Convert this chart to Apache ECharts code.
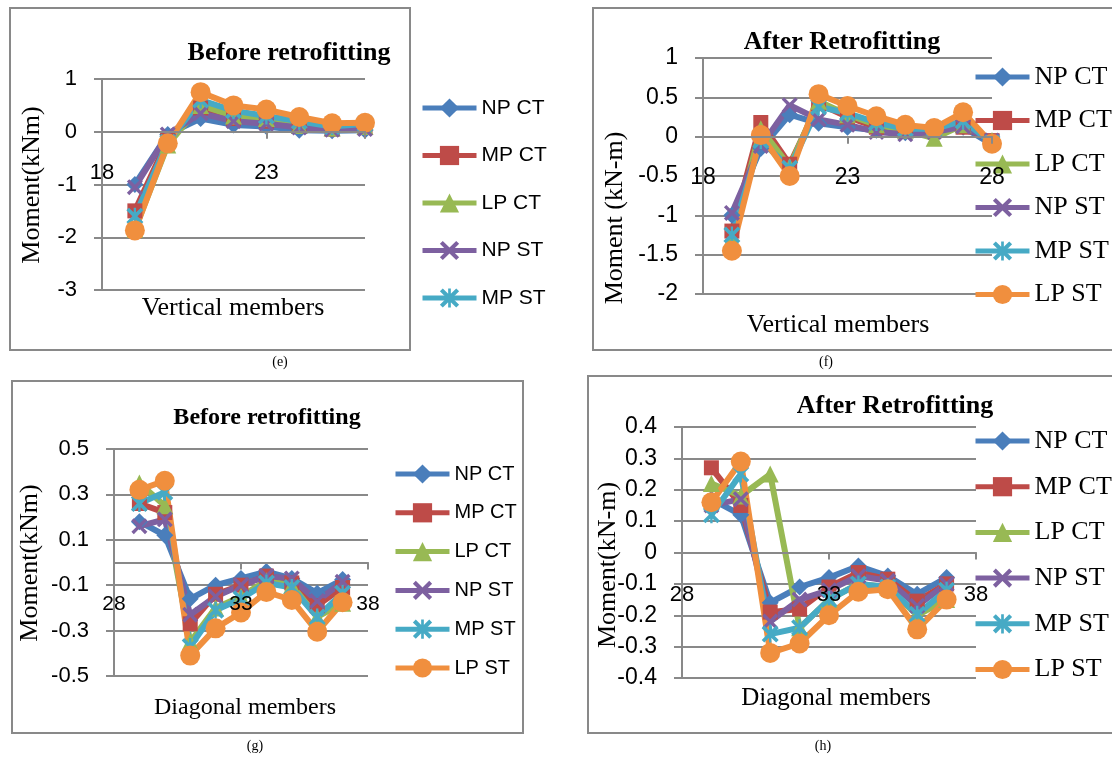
<!DOCTYPE html>
<html>
<head>
<meta charset="utf-8">
<script src="https://cdn.jsdelivr.net/npm/echarts@6/dist/echarts.min.js"></script>
<style>
html,body{margin:0;padding:0;background:#fff}
#main{width:1112px;height:758px}
</style>
</head>
<body>
<div id="main"></div>
<script>
// series names (same in all four panels)
var seriesNames = ['NP CT', 'MP CT', 'LP CT', 'NP ST', 'MP ST', 'LP ST'];

// (e) vertical members, before retrofitting
var membersE = [19, 20, 21, 22, 23, 24, 25, 26];
var eNpCt = [-1.0, -0.05, 0.25, 0.13, 0.1, 0.03, 0.02, 0.03];
var eMpCt = [-1.5, -0.15, 0.45, 0.25, 0.2, 0.1, 0.05, 0.08];
var eLpCt = [-1.85, -0.25, 0.5, 0.3, 0.25, 0.12, 0.07, 0.1];
var eNpSt = [-1.05, -0.05, 0.35, 0.2, 0.15, 0.08, 0.04, 0.05];
var eMpSt = [-1.6, -0.2, 0.6, 0.4, 0.3, 0.2, 0.1, 0.15];
var eLpSt = [-1.87, -0.22, 0.75, 0.5, 0.42, 0.28, 0.16, 0.17];
var xTicksE = [18, 23];

// (f) vertical members, after retrofitting
var membersF = [19, 20, 21, 22, 23, 24, 25, 26, 27, 28];
var fNpCt = [-1.0, -0.15, 0.28, 0.17, 0.12, 0.08, 0.05, 0.08, 0.12, -0.1];
var fMpCt = [-1.2, 0.18, -0.35, 0.42, 0.25, 0.12, 0.08, 0.08, 0.12, -0.05];
var fLpCt = [-1.3, 0.1, -0.38, 0.45, 0.28, 0.15, 0.08, -0.02, 0.15, -0.05];
var fNpSt = [-0.97, -0.12, 0.4, 0.22, 0.15, 0.06, 0.03, 0.06, 0.13, -0.05];
var fMpSt = [-1.25, -0.05, -0.4, 0.38, 0.3, 0.18, 0.1, 0.1, 0.2, -0.08];
var fLpSt = [-1.45, 0.02, -0.5, 0.54, 0.39, 0.26, 0.15, 0.11, 0.31, -0.09];
var xTicksF = [18, 23, 28];

// (g) diagonal members, before retrofitting
var membersG = [29, 30, 31, 32, 33, 34, 35, 36, 37];
var gNpCt = [0.18, 0.12, -0.16, -0.1, -0.07, -0.04, -0.07, -0.135, -0.075];
var gMpCt = [0.26, 0.22, -0.27, -0.14, -0.1, -0.06, -0.09, -0.19, -0.11];
var gLpCt = [0.35, 0.25, -0.35, -0.2, -0.15, -0.08, -0.1, -0.24, -0.18];
var gNpSt = [0.16, 0.19, -0.23, -0.15, -0.1, -0.06, -0.07, -0.17, -0.085];
var gMpSt = [0.26, 0.31, -0.37, -0.21, -0.16, -0.09, -0.11, -0.24, -0.135];
var gLpSt = [0.32, 0.36, -0.41, -0.29, -0.22, -0.13, -0.165, -0.305, -0.175];
var xTicksG = [28, 33, 38];

// (h) diagonal members, after retrofitting
var membersH = [29, 30, 31, 32, 33, 34, 35, 36, 37];
var hNpCt = [0.17, 0.12, -0.16, -0.11, -0.08, -0.043, -0.075, -0.133, -0.08];
var hMpCt = [0.27, 0.15, -0.19, -0.18, -0.11, -0.064, -0.085, -0.155, -0.1];
var hLpCt = [0.22, 0.18, 0.25, -0.24, -0.15, -0.1, -0.11, -0.2, -0.15];
var hNpSt = [0.15, 0.17, -0.22, -0.15, -0.12, -0.075, -0.09, -0.17, -0.1];
var hMpSt = [0.12, 0.25, -0.26, -0.24, -0.15, -0.1, -0.11, -0.197, -0.12];
var hLpSt = [0.16, 0.29, -0.32, -0.29, -0.2, -0.125, -0.117, -0.245, -0.15];
var xTicksH = [28, 33, 38];

var SANS = "'Liberation Sans', Arial, sans-serif";
var SERIF = "'Liberation Serif', 'Times New Roman', serif";
var GRAY = '#898989';

var colors = ['#4A7EBB', '#BE4B48', '#98B954', '#7D60A0', '#46AAC5', '#F08F3E'];
var xMark = 'path://M0,1.5L1.5,0L5,3.5L8.5,0L10,1.5L6.5,5L10,8.5L8.5,10L5,6.5L1.5,10L0,8.5L3.5,5Z';
var starMark = 'path://M0,1.5L1.5,0L5,3.5L8.5,0L10,1.5L6.5,5L10,8.5L8.5,10L5,6.5L1.5,10L0,8.5L3.5,5Z M4.3,0L5.7,0L5.7,10L4.3,10Z';
var symbols = ['diamond', 'rect', 'triangle', xMark, starMark, 'circle'];
var symbolSizes = [17, 15, 17, 16, 17, 20];

// layout of the four panels; labelMargin puts the x labels about 42px under the zero line
var panels = [
    {grid: {left: 102, top: 79, width: 263, height: 211}, xr: [18, 26, 5], yr: [-3, 1, 1],
     members: membersE, values: [eNpCt, eMpCt, eLpCt, eNpSt, eMpSt, eLpSt], ticks: xTicksE,
     yFont: 22, xFont: 22, labelMargin: -128,
     legend: {left: 420, top: 96, gap: 23.5, font: SANS, size: 21, names: seriesNames.slice(0, 5)}},
    {grid: {left: 703, top: 58, width: 289, height: 236}, xr: [18, 28, 5], yr: [-2, 1, 0.5],
     members: membersF, values: [fNpCt, fMpCt, fLpCt, fNpSt, fMpSt, fLpSt], ticks: xTicksF,
     yFont: 23, xFont: 23, labelMargin: -128,
     legend: {left: 973, top: 64, gap: 17.5, font: SERIF, size: 26, names: seriesNames}},
    {grid: {left: 114, top: 449, width: 254, height: 227}, xr: [28, 38, 5], yr: [-0.5, 0.5, 0.2],
     members: membersG, values: [gNpCt, gMpCt, gLpCt, gNpSt, gMpSt, gLpSt], ticks: xTicksG,
     yFont: 22, xFont: 21, labelMargin: -82,
     legend: {left: 393, top: 462, gap: 14.8, font: SANS, size: 20, names: seriesNames}},
    {grid: {left: 682, top: 427, width: 294, height: 251}, xr: [28, 38, 5], yr: [-0.4, 0.4, 0.1],
     members: membersH, values: [hNpCt, hMpCt, hLpCt, hNpSt, hMpSt, hLpSt], ticks: xTicksH,
     yFont: 23, xFont: 22, labelMargin: -94,
     legend: {left: 973, top: 428, gap: 19.7, font: SERIF, size: 26, names: seriesNames}}
];

var grids = [], xAxes = [], yAxes = [], series = [], legends = [];

panels.forEach(function (p, i) {
    grids.push(p.grid);
    var ticks = p.ticks;
    xAxes.push({
        gridIndex: i, type: 'value', min: p.xr[0], max: p.xr[1], interval: p.xr[2], z: 10,
        axisLine: {show: true, onZero: true, lineStyle: {color: GRAY, width: 2}},
        axisTick: {show: true, length: 7, lineStyle: {color: GRAY, width: 2}},
        axisLabel: {
            margin: p.labelMargin, color: '#000', fontFamily: SANS, fontSize: p.xFont,
            formatter: function (v) { return ticks.indexOf(v) >= 0 ? String(v) : ''; }
        },
        splitLine: {show: false}
    });
    yAxes.push({
        gridIndex: i, type: 'value', min: p.yr[0], max: p.yr[1], interval: p.yr[2],
        axisLine: {show: true, onZero: false, lineStyle: {color: GRAY, width: 2}},
        axisTick: {show: true, length: 8, lineStyle: {color: GRAY, width: 2}},
        axisLabel: {margin: 25, color: '#000', fontFamily: SANS, fontSize: p.yFont},
        splitLine: {show: true, lineStyle: {color: GRAY, width: 2}}
    });
    p.values.forEach(function (vals, k) {
        series.push({
            name: seriesNames[k], type: 'line', xAxisIndex: i, yAxisIndex: i,
            data: p.members.map(function (m, j) { return [m, vals[j]]; }),
            symbol: symbols[k], symbolSize: symbolSizes[k],
            lineStyle: {color: colors[k], width: 6},
            itemStyle: {color: colors[k]}
        });
    });
    legends.push({
        orient: 'vertical', left: p.legend.left, top: p.legend.top, padding: 0,
        itemWidth: 54, itemHeight: 24, itemGap: p.legend.gap,
        data: p.legend.names, selectedMode: false,
        lineStyle: {width: 5},
        textStyle: {color: '#000', fontFamily: p.legend.font, fontSize: p.legend.size, lineHeight: 24}
    });
});

function label(text, x, y, size, opts) {
    opts = opts || {};
    return {
        type: 'text', x: x, y: y, rotation: opts.rot || 0, z: 20,
        style: {
            text: text, fill: '#000', align: 'center', verticalAlign: 'middle',
            font: (opts.bold ? 'bold ' : '') + size + 'px ' + SERIF
        }
    };
}

function frame(x, y, w, h) {
    return {type: 'rect', shape: {x: x, y: y, width: w, height: h}, z: 0,
        style: {fill: null, stroke: GRAY, lineWidth: 2}};
}

var graphics = [
    frame(10, 8, 400, 342), frame(593, 8, 530, 342),
    frame(12, 381, 511, 352), frame(588, 376, 540, 357),
    label('Before retrofitting', 289, 53, 26, {bold: true}),
    label('After Retrofitting', 842, 42, 26, {bold: true}),
    label('Before retrofitting', 267, 418, 24, {bold: true}),
    label('After Retrofitting', 895, 406, 26, {bold: true}),
    label('Moment(kNm)', 32, 185, 26, {rot: Math.PI / 2}),
    label('Moment (kN-m)', 615, 218, 26, {rot: Math.PI / 2}),
    label('Moment(kNm)', 30, 563, 26, {rot: Math.PI / 2}),
    label('Moment(kN-m)', 608, 565, 26, {rot: Math.PI / 2}),
    label('Vertical members', 233, 308, 26),
    label('Vertical members', 838, 325, 26),
    label('Diagonal members', 245, 708, 24),
    label('Diagonal members', 836, 698, 25),
    label('(e)', 280, 362, 14),
    label('(f)', 826, 362, 14),
    label('(g)', 255, 746, 14),
    label('(h)', 823, 746, 14)
];

var chart = echarts.init(document.getElementById('main'));
chart.setOption({
    animation: false,
    backgroundColor: '#fff',
    grid: grids,
    xAxis: xAxes,
    yAxis: yAxes,
    legend: legends,
    graphic: graphics,
    series: series
});
</script>
</body>
</html>
